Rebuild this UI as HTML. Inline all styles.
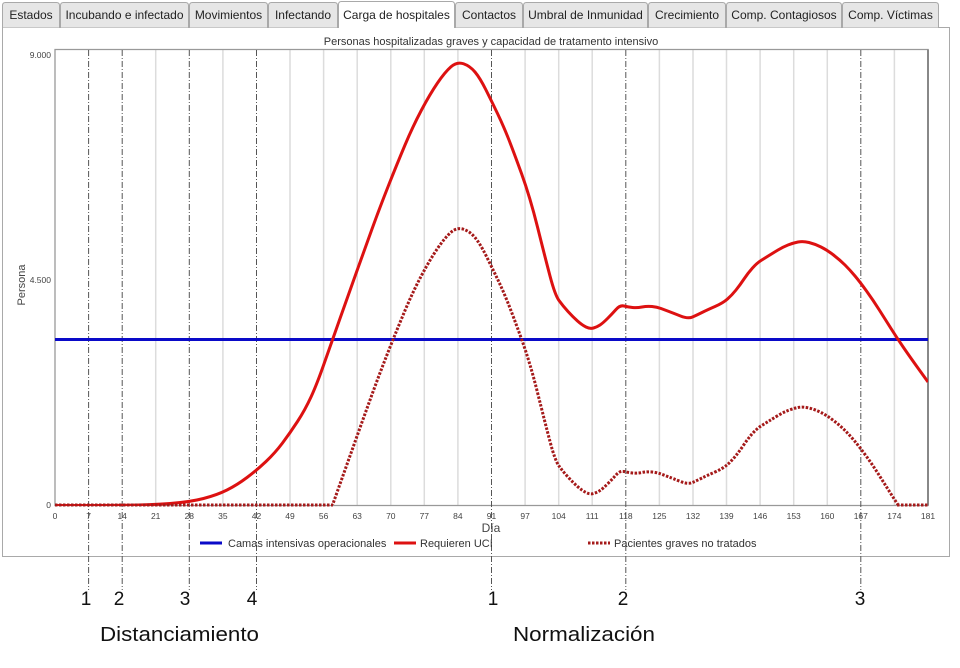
<!DOCTYPE html>
<html><head><meta charset="utf-8"><style>
html,body{margin:0;padding:0;background:#fff;}
svg{display:block;}
text{font-family:"Liberation Sans",Arial,sans-serif;}
</style></head><body>
<svg width="960" height="668" viewBox="0 0 960 668" xmlns="http://www.w3.org/2000/svg">
<defs>
<clipPath id="cp" clipPathUnits="userSpaceOnUse"><rect x="55" y="49" width="873" height="457"/></clipPath>
<clipPath id="cpd" clipPathUnits="userSpaceOnUse"><rect x="330" y="49" width="570" height="456"/></clipPath>
</defs>
<rect width="960" height="668" fill="#fff"/>
<!-- panel -->
<rect x="2.5" y="27.5" width="947" height="529" fill="#fff" stroke="#a9a9a9" stroke-width="1"/>
<!-- tabs -->
<g stroke="#a9a9a9" stroke-width="1">
<path d="M2.5,27.5 V5.5 Q2.5,2.5 5.5,2.5 H56.5 Q59.5,2.5 59.5,5.5 V27.5" fill="#e6e6e6"/>
<path d="M60.5,27.5 V5.5 Q60.5,2.5 63.5,2.5 H185.5 Q188.5,2.5 188.5,5.5 V27.5" fill="#e6e6e6"/>
<path d="M189.5,27.5 V5.5 Q189.5,2.5 192.5,2.5 H264.5 Q267.5,2.5 267.5,5.5 V27.5" fill="#e6e6e6"/>
<path d="M268.5,27.5 V5.5 Q268.5,2.5 271.5,2.5 H334.5 Q337.5,2.5 337.5,5.5 V27.5" fill="#e6e6e6"/>
<path d="M455.5,27.5 V5.5 Q455.5,2.5 458.5,2.5 H519.5 Q522.5,2.5 522.5,5.5 V27.5" fill="#e6e6e6"/>
<path d="M523.5,27.5 V5.5 Q523.5,2.5 526.5,2.5 H644.5 Q647.5,2.5 647.5,5.5 V27.5" fill="#e6e6e6"/>
<path d="M648.5,27.5 V5.5 Q648.5,2.5 651.5,2.5 H722.5 Q725.5,2.5 725.5,5.5 V27.5" fill="#e6e6e6"/>
<path d="M726.5,27.5 V5.5 Q726.5,2.5 729.5,2.5 H838.5 Q841.5,2.5 841.5,5.5 V27.5" fill="#e6e6e6"/>
<path d="M842.5,27.5 V5.5 Q842.5,2.5 845.5,2.5 H935.5 Q938.5,2.5 938.5,5.5 V27.5" fill="#e6e6e6"/>
<path d="M338.5,28 V4.5 Q338.5,1.5 341.5,1.5 H451.5 Q454.5,1.5 454.5,4.5 V28" fill="#fff"/>
</g>
<g font-size="12" fill="#222" text-anchor="middle">
<text x="31" y="19">Estados</text>
<text x="124.5" y="19">Incubando e infectado</text>
<text x="228.5" y="19">Movimientos</text>
<text x="303" y="19">Infectando</text>
<text x="396.5" y="19">Carga de hospitales</text>
<text x="489" y="19">Contactos</text>
<text x="585.5" y="19">Umbral de Inmunidad</text>
<text x="687" y="19">Crecimiento</text>
<text x="784" y="19">Comp. Contagiosos</text>
<text x="890.5" y="19">Comp. Víctimas</text>
</g>
<!-- title -->
<text x="491" y="45" font-size="11" fill="#333" text-anchor="middle">Personas hospitalizadas graves y capacidad de tratamento intensivo</text>
<!-- grid -->
<g stroke="#dcdcdc" stroke-width="1.5">
<line x1="155.7" y1="50" x2="155.7" y2="505"/>
<line x1="222.9" y1="50" x2="222.9" y2="505"/>
<line x1="290.0" y1="50" x2="290.0" y2="505"/>
<line x1="323.6" y1="50" x2="323.6" y2="505"/>
<line x1="357.2" y1="50" x2="357.2" y2="505"/>
<line x1="390.8" y1="50" x2="390.8" y2="505"/>
<line x1="424.3" y1="50" x2="424.3" y2="505"/>
<line x1="457.9" y1="50" x2="457.9" y2="505"/>
<line x1="525.1" y1="50" x2="525.1" y2="505"/>
<line x1="558.7" y1="50" x2="558.7" y2="505"/>
<line x1="592.2" y1="50" x2="592.2" y2="505"/>
<line x1="659.4" y1="50" x2="659.4" y2="505"/>
<line x1="693.0" y1="50" x2="693.0" y2="505"/>
<line x1="726.5" y1="50" x2="726.5" y2="505"/>
<line x1="760.1" y1="50" x2="760.1" y2="505"/>
<line x1="793.7" y1="50" x2="793.7" y2="505"/>
<line x1="827.3" y1="50" x2="827.3" y2="505"/>
<line x1="894.4" y1="50" x2="894.4" y2="505"/>
</g>
<!-- plot frame -->
<path d="M55,505.5 V49.5 H928 V505.5 Z" fill="none" stroke="#999" stroke-width="1.3"/>
<line x1="928" y1="49.5" x2="928" y2="505.5" stroke="#888" stroke-width="2"/>
<!-- dash-dot markers -->
<g stroke="#555" stroke-width="1" stroke-dasharray="6,2,1,2">
<line x1="88.6" y1="50" x2="88.6" y2="590"/>
<line x1="122.2" y1="50" x2="122.2" y2="590"/>
<line x1="189.3" y1="50" x2="189.3" y2="590"/>
<line x1="256.5" y1="50" x2="256.5" y2="590"/>
<line x1="491.5" y1="50" x2="491.5" y2="590"/>
<line x1="625.8" y1="50" x2="625.8" y2="590"/>
<line x1="860.8" y1="50" x2="860.8" y2="590"/>
</g>
<!-- y labels -->
<g font-size="8.5" fill="#444" text-anchor="end">
<text x="51" y="58">9.000</text>
<text x="51" y="283">4.500</text>
<text x="51" y="508">0</text>
</g>
<text transform="translate(25,285) rotate(-90)" font-size="11" fill="#444" text-anchor="middle">Persona</text>
<!-- x labels -->
<g font-size="8.5" fill="#444" text-anchor="middle">
<text x="55" y="519">0</text><text x="88.6" y="519">7</text><text x="122.2" y="519">14</text><text x="155.7" y="519">21</text>
<text x="189.3" y="519">28</text><text x="222.9" y="519">35</text><text x="256.5" y="519">42</text><text x="290.0" y="519">49</text>
<text x="323.6" y="519">56</text><text x="357.2" y="519">63</text><text x="390.8" y="519">70</text><text x="424.3" y="519">77</text>
<text x="457.9" y="519">84</text><text x="491.5" y="519">91</text><text x="525.1" y="519">97</text><text x="558.7" y="519">104</text>
<text x="592.2" y="519">111</text><text x="625.8" y="519">118</text><text x="659.4" y="519">125</text><text x="693.0" y="519">132</text>
<text x="726.5" y="519">139</text><text x="760.1" y="519">146</text><text x="793.7" y="519">153</text><text x="827.3" y="519">160</text>
<text x="860.8" y="519">167</text><text x="894.4" y="519">174</text><text x="928" y="519">181</text>
</g>
<text x="491" y="532" font-size="12" fill="#444" text-anchor="middle">Día</text>
<!-- series -->
<line x1="55" y1="339.5" x2="928" y2="339.5" stroke="#0a0ac8" stroke-width="3"/>
<g clip-path="url(#cp)">
<path fill="none" stroke="#dd1111" stroke-width="3" stroke-linejoin="round" d="M55,505.5 L77.5,505.5 Q100,505.5 125,505.25 Q150,505 170,503.5 Q190,502 203.5,498.5 Q217,495 227,490 Q237,485 247,477.5 Q257,470 266,461.5 Q275,453 282.5,443 Q290,433 297.5,421.5 Q305,410 311,397 Q317,384 324.5,362.5 Q332,341 340,318.5 Q348,296 356,273.5 Q364,251 372,229 Q380,207 388.5,185.5 Q397,164 405,145 Q413,126 421.5,110 Q430,94 437.5,83 Q445,72 451,66.75 Q457,61.5 463.5,63.75 Q470,66 475,72 Q480,78 486,90 Q492,102 497.5,113.5 Q503,125 508,137.5 Q513,150 521.5,173.5 Q530,197 537.5,227 Q545,257 550,276 Q555,295 559,300.5 Q563,306 568,311.5 Q573,317 577.5,321 Q582,325 586,327 Q590,329 593.5,328 Q597,327 600,325 Q603,323 607.5,318.5 Q612,314 616,309.5 Q620,305 624,306 Q628,307 632.5,307.5 Q637,308 642,307 Q647,306 652,306.5 Q657,307 661,308.5 Q665,310 669,311.5 Q673,313 680.5,316 Q688,319 692.5,317 Q697,315 702,312.5 Q707,310 715,306.5 Q723,303 727.5,299 Q732,295 736,290 Q740,285 744,279 Q748,273 752.5,268 Q757,263 761,260.5 Q765,258 769,255.5 Q773,253 778,250 Q783,247 788,245 Q793,243 798,242 Q803,241 809,242.5 Q815,244 821,247 Q827,250 833.5,255 Q840,260 845,265 Q850,270 855,276 Q860,282 866.5,291 Q873,300 879,309.5 Q885,319 891,328.5 Q897,338 903.5,347.5 Q910,357 919,369.5 L928,382"/>
</g>
<g clip-path="url(#cpd)">
<path transform="translate(0,165.5)" fill="none" stroke="#a51a1a" stroke-width="3" stroke-dasharray="2.5,1.5" d="M332,341 L340,318.5 Q348,296 356,273.5 Q364,251 372,229 Q380,207 388.5,185.5 Q397,164 405,145 Q413,126 421.5,110 Q430,94 437.5,83 Q445,72 451,66.75 Q457,61.5 463.5,63.75 Q470,66 475,72 Q480,78 486,90 Q492,102 497.5,113.5 Q503,125 508,137.5 Q513,150 521.5,173.5 Q530,197 537.5,227 Q545,257 550,276 Q555,295 559,300.5 Q563,306 568,311.5 Q573,317 577.5,321 Q582,325 586,327 Q590,329 593.5,328 Q597,327 600,325 Q603,323 607.5,318.5 Q612,314 616,309.5 Q620,305 624,306 Q628,307 632.5,307.5 Q637,308 642,307 Q647,306 652,306.5 Q657,307 661,308.5 Q665,310 669,311.5 Q673,313 680.5,316 Q688,319 692.5,317 Q697,315 702,312.5 Q707,310 715,306.5 Q723,303 727.5,299 Q732,295 736,290 Q740,285 744,279 Q748,273 752.5,268 Q757,263 761,260.5 Q765,258 769,255.5 Q773,253 778,250 Q783,247 788,245 Q793,243 798,242 Q803,241 809,242.5 Q815,244 821,247 Q827,250 833.5,255 Q840,260 845,265 Q850,270 855,276 Q860,282 866.5,291 Q873,300 879,309.5 Q885,319 891,328.5 Q897,338 903.5,347.5"/>
</g>
<line x1="55" y1="505" x2="333" y2="505" stroke="#a51a1a" stroke-width="3" stroke-dasharray="2.5,1.5"/>
<line x1="897" y1="505" x2="928" y2="505" stroke="#a51a1a" stroke-width="3" stroke-dasharray="2.5,1.5"/>
<!-- legend -->
<line x1="200" y1="543" x2="222" y2="543" stroke="#0a0ac8" stroke-width="3"/>
<text x="228" y="547" font-size="11" fill="#333">Camas intensivas operacionales</text>
<line x1="394" y1="543" x2="416" y2="543" stroke="#dd1111" stroke-width="3"/>
<text x="420" y="547" font-size="11" fill="#333">Requieren UCI</text>
<line x1="588" y1="543" x2="610" y2="543" stroke="#a51a1a" stroke-width="3" stroke-dasharray="2.5,1.5"/>
<text x="614" y="547" font-size="11" fill="#333">Pacientes graves no tratados</text>
<!-- annotations -->
<g font-size="19" fill="#111" text-anchor="middle">
<text x="86" y="605">1</text>
<text x="119" y="605">2</text>
<text x="185" y="605">3</text>
<text x="252" y="605">4</text>
<text x="493" y="605">1</text>
<text x="623" y="605">2</text>
<text x="860" y="605">3</text>
</g>
<text x="100" y="641" font-size="20" fill="#111" textLength="159" lengthAdjust="spacingAndGlyphs">Distanciamiento</text>
<text x="513" y="641" font-size="20" fill="#111" textLength="142" lengthAdjust="spacingAndGlyphs">Normalización</text>
</svg>
</body></html>
